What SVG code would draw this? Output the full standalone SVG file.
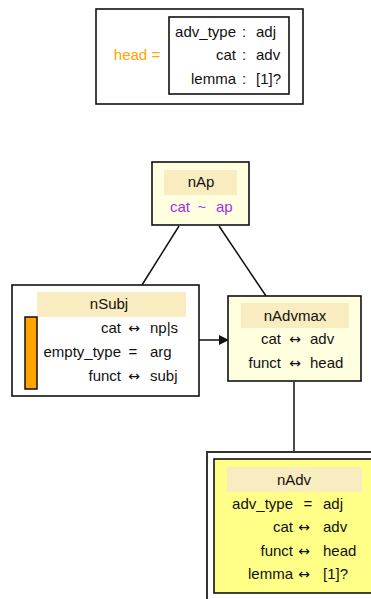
<svg xmlns="http://www.w3.org/2000/svg" width="371" height="599" viewBox="0 0 371 599">
<style>
text{font-family:"Liberation Sans",Arial,sans-serif;font-size:15px;fill:#111}
.r{text-anchor:end}
.m{text-anchor:middle}
.box{stroke:#111;stroke-width:1.6}
.hdr{fill:#f8ecc0;stroke:none}
.arr{font-family:"DejaVu Sans",sans-serif;font-size:14px}
.edge{stroke:#111;stroke-width:1.5;fill:none}
</style>
<defs>
<marker id="ah" markerWidth="10" markerHeight="10" refX="9" refY="5" orient="auto" markerUnits="userSpaceOnUse">
<path d="M0,0 L10,5 L0,10 Z" fill="#111"/>
</marker>
</defs>
<g id="legend">
<rect x="96" y="9" width="207" height="95" class="box" fill="#fff"/>
<text x="137" y="60" class="m" style="fill:#ffa500">head =</text>
<rect x="169" y="17" width="120" height="77" class="box" fill="#fff"/>
<text x="236" y="37" class="r">adv_type</text><text x="244" y="37" class="m">:</text><text x="256" y="37">adj</text>
<text x="236" y="60" class="r">cat</text><text x="244" y="60" class="m">:</text><text x="256" y="60">adv</text>
<text x="236" y="84" class="r">lemma</text><text x="244" y="84" class="m">:</text><text x="256" y="84">[1]?</text>
</g>
<g id="edges">
<line x1="179" y1="226" x2="142" y2="285" class="edge"/>
<line x1="219" y1="226" x2="266" y2="296" class="edge"/>
<line x1="199" y1="340" x2="228" y2="340" class="edge" marker-end="url(#ah)"/>
<line x1="294" y1="382" x2="294" y2="452" class="edge"/>
</g>
<g id="nAp">
<rect x="152" y="162" width="97" height="63" class="box" fill="#ffffe0"/>
<rect x="164" y="170" width="73" height="25" class="hdr"/>
<text x="201" y="187" class="m">nAp</text>
<text x="170" y="212" style="fill:#a030f0">cat</text>
<text x="202" y="212" class="m" style="fill:#a030f0">~</text>
<text x="216" y="212" style="fill:#a030f0">ap</text>
</g>
<g id="nSubj">
<rect x="12" y="285" width="187" height="111" class="box" fill="#fff"/>
<rect x="37" y="292" width="149" height="25" class="hdr"/>
<text x="109" y="309" class="m">nSubj</text>
<rect x="25" y="317" width="12" height="72" fill="#ffa500" stroke="#111" stroke-width="1.5"/>
<text x="121" y="333" class="r">cat</text><text x="134" y="333" class="m arr">↔</text><text x="150" y="333">np|s</text>
<text x="121" y="357" class="r">empty_type</text><text x="133" y="357" class="m">=</text><text x="150" y="357">arg</text>
<text x="121" y="381" class="r">funct</text><text x="134" y="381" class="m arr">↔</text><text x="150" y="381">subj</text>
</g>
<g id="nAdvmax">
<rect x="228" y="296" width="133" height="85" class="box" fill="#ffffe0"/>
<rect x="241" y="303" width="108" height="25" class="hdr"/>
<text x="295" y="321" class="m">nAdvmax</text>
<text x="281" y="344" class="r">cat</text><text x="295" y="344" class="m arr">↔</text><text x="310" y="344">adv</text>
<text x="281" y="368" class="r">funct</text><text x="295" y="368" class="m arr">↔</text><text x="310" y="368">head</text>
</g>
<g id="nAdv">
<rect x="207" y="452" width="180" height="160" fill="#fff" stroke="#333" stroke-width="2"/>
<rect x="214" y="459" width="170" height="134" class="box" fill="#ffff88"/>
<rect x="227" y="467" width="135" height="25" class="hdr"/>
<text x="294" y="485" class="m">nAdv</text>
<text x="293" y="509" class="r">adv_type</text><text x="308" y="509" class="m">=</text><text x="323" y="509">adj</text>
<text x="293" y="532" class="r">cat</text><text x="304" y="532" class="m arr">↔</text><text x="323" y="532">adv</text>
<text x="293" y="556" class="r">funct</text><text x="304" y="556" class="m arr">↔</text><text x="323" y="556">head</text>
<text x="293" y="579" class="r">lemma</text><text x="304" y="579" class="m arr">↔</text><text x="323" y="579">[1]?</text>
</g>
</svg>
